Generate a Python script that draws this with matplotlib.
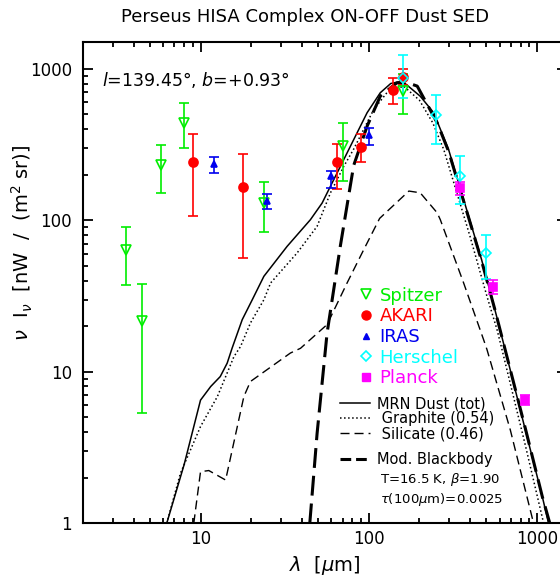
import matplotlib
matplotlib.use("Agg")
import matplotlib.pyplot as plt
from matplotlib.lines import Line2D
from matplotlib.ticker import LogLocator, FuncFormatter, NullFormatter

# photometry: wavelength (um), nu I_nu (nW m^-2 sr^-1), error bar ends
spitzer_wl = [3.6, 4.5, 5.8, 8.0, 24, 70, 160]
spitzer_val = [64.0, 21.7, 233, 440, 130, 308, 712]
spitzer_lo = [37.2, 5.33, 151, 299, 83.8, 181, 507]
spitzer_hi = [89.9, 38.2, 315, 597, 178, 436, 930]

akari_wl = [9, 18, 65, 90, 140, 160]
akari_val = [242, 165, 242, 305, 723, 880]
akari_lo = [107, 56.4, 160, 242, 582, 780]
akari_hi = [374, 272, 320, 369, 873, 990]

iras_wl = [12, 25, 60, 100]
iras_val = [237, 135, 195, 368]
iras_lo = [204, 118, 164, 315]
iras_hi = [262, 150, 213, 408]

herschel_wl = [160, 250, 350, 500]
herschel_val = [873, 497, 197, 60.9]
herschel_lo = [640, 321, 129, 41.0]
herschel_hi = [1232, 667, 265, 80.4]

planck_wl = [350, 550, 850]
planck_val = [164, 36.3, 6.53]
planck_lo = [148, 32.8, 6.05]
planck_hi = [178, 40.1, 7.05]

# model curves
mrn_wl = [6.3, 8.0, 10.0, 11.5, 13.1, 14.4, 15.4, 17.7, 20.3, 23.8, 32.7, 45.0,
          52.8, 59.2, 67.8, 76, 97.7, 117, 135, 158, 202, 243, 298, 403, 468,
          560, 646, 853, 1074, 1170]
mrn_val = [1.0, 2.45, 6.5, 8.0, 9.3, 11.4, 14.3, 22.1, 29.9, 42.7, 67.3, 101,
           130, 168, 227, 293, 513, 695, 800, 830, 660, 513, 293, 96, 55,
           26, 14, 4.1, 1.5, 1.0]

graphite_wl = [6.3, 7.6, 10.0, 12.6, 15.8, 17.3, 19.8, 23.8, 26.1, 37.5, 49.3,
               59.2, 71.0, 81.3, 107, 128, 161, 200, 240, 279, 400, 504, 578,
               619, 850, 1094]
graphite_val = [1.0, 2.14, 4.35, 6.87, 12.6, 14.7, 21.0, 29.9, 38.6, 60.9, 91.3,
                152, 227, 295, 539, 695, 769, 620, 440, 293, 78, 31.4, 19.0,
                14.0, 3.3, 1.0]

silicate_wl = [9.12, 10.0, 11.2, 14.1, 18.1, 19.8, 34.2, 39.3, 56.5, 74.3, 93.3,
               116, 173, 202, 255, 266, 366, 481, 504, 693, 933, 953]
silicate_val = [1.0, 2.19, 2.23, 1.93, 6.87, 8.63, 13.3, 14.3, 20.5, 38.6, 64,
                103, 156, 152, 112, 101, 38.6, 16.3, 14.0, 4.14, 1.1, 1.0]

bb_wl = [44.6, 49.3, 56.5, 67.8, 81.3, 97.7, 117, 147, 175, 194, 255, 298, 403,
         468, 560, 646, 853, 1074, 1190]
bb_val = [1.0, 3.93, 18, 68, 230, 418, 660, 809, 800, 769, 440, 285, 94,
          54, 26, 14, 4.2, 1.5, 1.0]

GREEN = "#00ee00"
RED = "#ff0000"
BLUE = "#0000ee"
CYAN = "#00ffff"
MAGENTA = "#ff00ff"

plt.rcParams["font.family"] = ["DejaVu Sans"]
plt.rcParams["mathtext.fontset"] = "dejavusans"

fig = plt.figure(figsize=(5.6, 5.79), dpi=100)
ax = fig.add_axes([0.148, 0.0962, 0.864, 0.831])
ax.set_xscale("log")
ax.set_yscale("log")
ax.set_xlim(2, 1500)
ax.set_ylim(1, 1500)

# model curves
ax.plot(mrn_wl, mrn_val, color="black", lw=1.1, ls="-")
ax.plot(graphite_wl, graphite_val, color="black", lw=1.1, ls=":")
ax.plot(silicate_wl, silicate_val, color="black", lw=1.0, dashes=(6.5, 3.6))
ax.plot(bb_wl, bb_val, color="black", lw=2.2, dashes=(6.5, 2.6))


def points(wl, val, lo, hi, color, marker, ms, filled):
    yerr = [[v - l for v, l in zip(val, lo)], [h - v for v, h in zip(val, hi)]]
    ax.errorbar(wl, val, yerr=yerr, fmt=marker, color=color, ms=ms,
                mfc=color if filled else "none", mec=color, mew=1.2,
                elinewidth=1.2, capsize=3.6, capthick=1.2, zorder=5)


points(spitzer_wl, spitzer_val, spitzer_lo, spitzer_hi, GREEN, "v", 6.5, False)
points(akari_wl, akari_val, akari_lo, akari_hi, RED, "o", 6.5, True)
points(iras_wl, iras_val, iras_lo, iras_hi, BLUE, "^", 5, True)
points(herschel_wl, herschel_val, herschel_lo, herschel_hi, CYAN, "D", 5, False)
points(planck_wl, planck_val, planck_lo, planck_hi, MAGENTA, "s", 5.5, True)

# axes styling
for s in ax.spines.values():
    s.set_linewidth(1.5)
ax.tick_params(which="both", direction="in", top=True, right=True, width=1.3)
ax.tick_params(which="major", length=7, labelsize=12)
ax.tick_params(which="minor", length=3.8)
ax.tick_params(axis="x", pad=5)
ax.tick_params(axis="y", pad=8)
ax.xaxis.set_major_locator(LogLocator(base=10))
ax.yaxis.set_major_locator(LogLocator(base=10))
fmt = FuncFormatter(lambda v, _: f"{v:g}")
ax.xaxis.set_major_formatter(fmt)
ax.yaxis.set_major_formatter(fmt)
ax.xaxis.set_minor_formatter(NullFormatter())
ax.yaxis.set_minor_formatter(NullFormatter())

ax.set_xlabel(r"$\lambda$  [$\mu$m]", fontsize=14)
ax.xaxis.set_label_coords(0.5, -0.064)
ax.set_ylabel(r"$\nu$  I$_\nu$  [nW  /  (m$^2$ sr)]", fontsize=14)
ax.yaxis.set_label_coords(-0.098, 0.582)

fig.text(0.545, 0.971, "Perseus HISA Complex ON-OFF Dust SED",
         ha="center", va="center", fontsize=13)

ax.text(0.04, 0.921, r"$l$=139.45°, $b$=+0.93°", transform=ax.transAxes,
        ha="left", va="center", fontsize=12.5)

# instrument legend
inst_handles = [
    Line2D([], [], ls="none", marker="v", ms=6.5, color=GREEN, mfc="none", mew=1.2),
    Line2D([], [], ls="none", marker="o", ms=6.5, color=RED),
    Line2D([], [], ls="none", marker="^", ms=5, color=BLUE),
    Line2D([], [], ls="none", marker="D", ms=5, color=CYAN, mfc="none", mew=1.2),
    Line2D([], [], ls="none", marker="s", ms=5.5, color=MAGENTA),
]
inst_labels = ["Spitzer", "AKARI", "IRAS", "Herschel", "Planck"]
leg1 = ax.legend(inst_handles, inst_labels, loc="upper left",
                 bbox_to_anchor=(0.57, 0.492), frameon=False, fontsize=13,
                 labelcolor="linecolor", handlelength=0.8, handletextpad=0.35,
                 labelspacing=0.15, borderpad=0, borderaxespad=0)
ax.add_artist(leg1)

# model legend
model_handles = [
    Line2D([], [], color="black", lw=1.1, ls="-"),
    Line2D([], [], color="black", lw=1.1, ls=":"),
    Line2D([], [], color="black", lw=1.0, dashes=(6.5, 3.6)),
]
model_labels = ["MRN Dust (tot)", " Graphite (0.54)", " Silicate (0.46)"]
leg2 = ax.legend(model_handles, model_labels, loc="upper left",
                 bbox_to_anchor=(0.531, 0.264), frameon=False, fontsize=10.5,
                 handlelength=2.1, handletextpad=0.45, labelspacing=0.0,
                 borderpad=0, borderaxespad=0)
ax.add_artist(leg2)

leg3 = ax.legend([Line2D([], [], color="black", lw=2.2, dashes=(3.5, 1.6))],
                 ["Mod. Blackbody"], loc="upper left",
                 bbox_to_anchor=(0.531, 0.148), frameon=False, fontsize=10.5,
                 handlelength=2.1, handletextpad=0.45,
                 borderpad=0, borderaxespad=0)
ax.text(0.614, 0.090, r"T=16.5 K, $\beta$=1.90", transform=ax.transAxes,
        ha="left", va="center", fontsize=9.5)
ax.text(0.614, 0.049, r"$\tau$(100$\mu$m)=0.0025", transform=ax.transAxes,
        ha="left", va="center", fontsize=9.5)

fig.savefig("out.png", dpi=100)
